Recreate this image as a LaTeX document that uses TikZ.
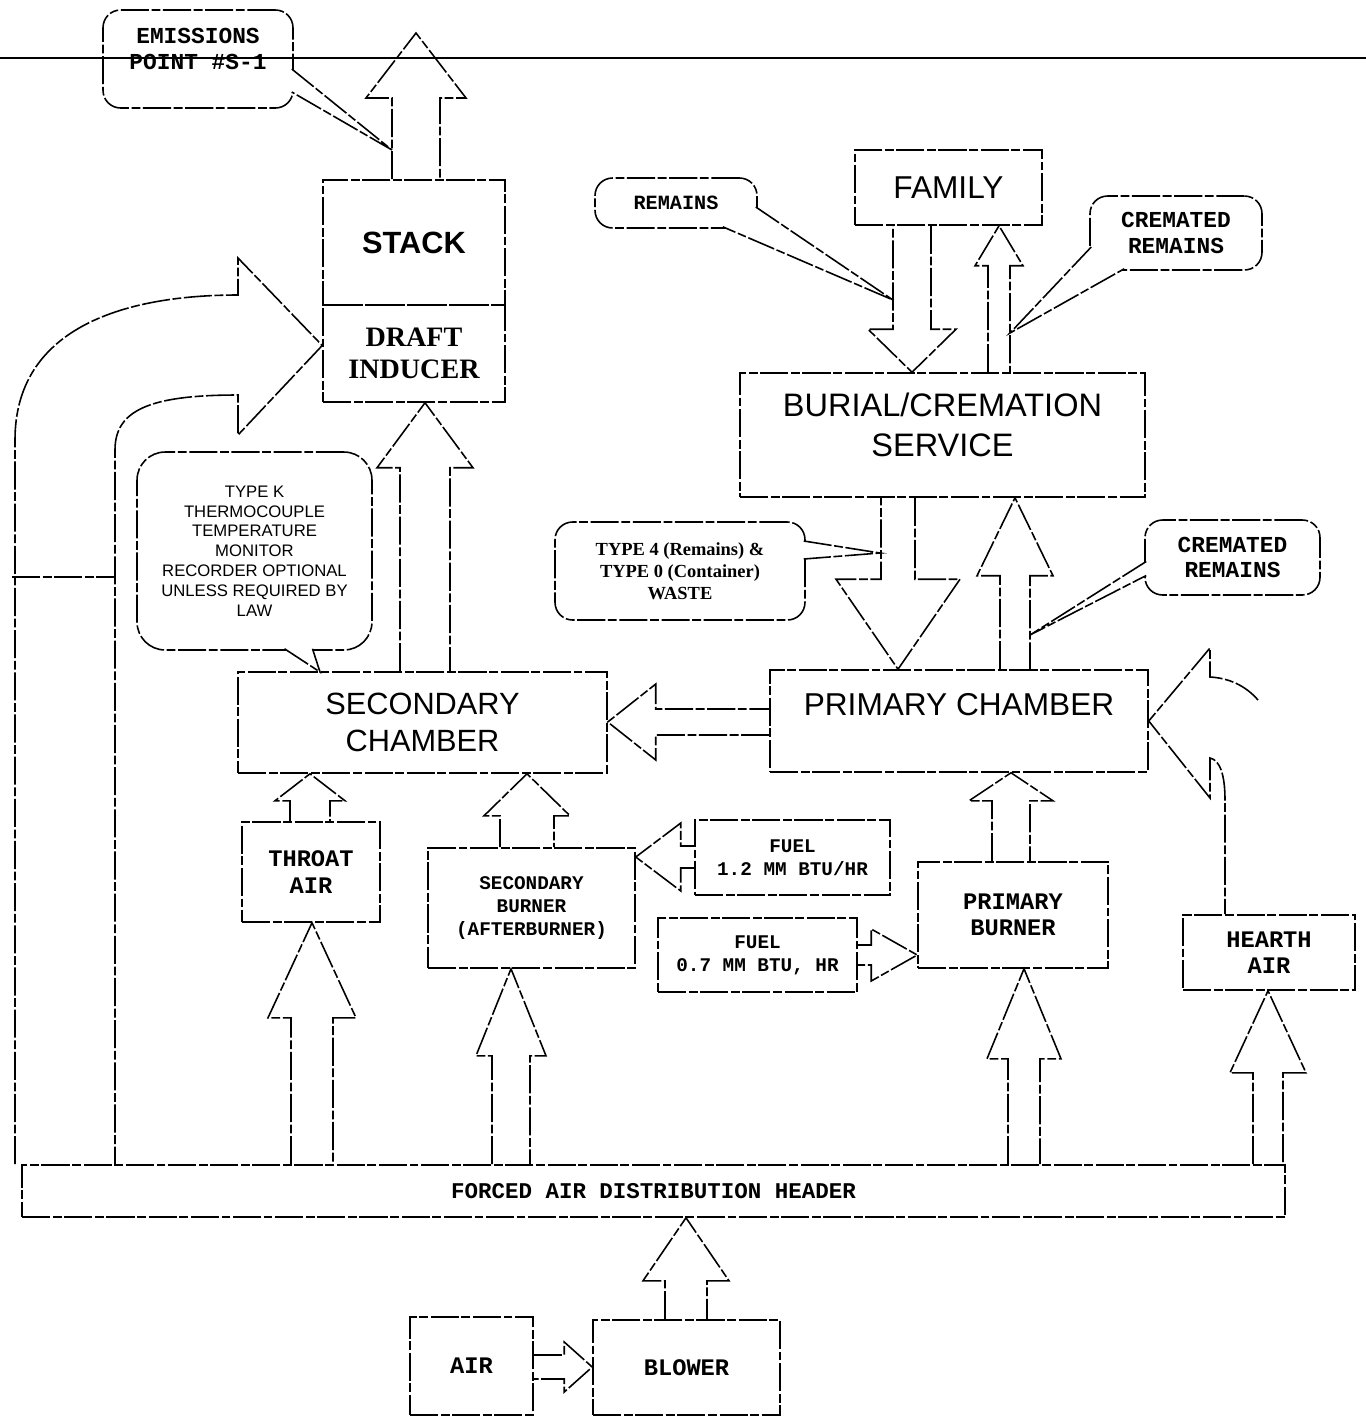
\documentclass[tikz,border=0pt]{standalone}
\usepackage{fontspec}
\setmainfont{Liberation Sans}
\newfontfamily\typefont{Liberation Mono}
\newfontfamily\slabfont{Liberation Serif}
\usetikzlibrary{calc}

% hollow block arrow: start, tip, shaft half width, head half width, head length (px)
\newcommand{\hollowarrow}[5]{%
  \coordinate (haA) at (#1);
  \coordinate (haB) at (#2);
  \coordinate (haH) at ($(haB)!#5*0.02cm!(haA)$);
  \draw[flowline] ($(haA)!#3*0.02cm!90:(haB)$) -- ($(haH)!#3*0.02cm!-90:(haA)$)
    -- ($(haH)!#4*0.02cm!-90:(haA)$) -- (haB) -- ($(haH)!#4*0.02cm!90:(haA)$)
    -- ($(haH)!#3*0.02cm!90:(haA)$) -- ($(haA)!#3*0.02cm!-90:(haB)$);
}
% speech bubble tail: base point, base point, tip
\newcommand{\bubbletail}[3]{%
  \fill[white] (#1) -- (#3) -- (#2) -- cycle;
  \draw[flowline] (#1) -- (#3) -- (#2);
}

\begin{document}
\begin{tikzpicture}[x=0.02cm, y=-0.02cm,
    % Styles for lines and boxes
    flowline/.style={line width=0.9pt, dash pattern=on 16pt off 1.5pt on 5pt off 1.5pt},
    procbox/.style={flowline, draw, rectangle, align=center, inner sep=0pt},
    bubble/.style={flowline, draw, rectangle, rounded corners=10pt, align=center, inner sep=0pt},
    % Styles for text
    bigfont/.style={font=\fontsize{18}{22}\selectfont},
    smalltype/.style={font=\typefont\bfseries\fontsize{11}{13}\selectfont},
    midtype/.style={font=\typefont\bfseries\fontsize{13.5}{15}\selectfont}
]
\useasboundingbox (0,0) rectangle (1366,1417);

% scan line at the top
\draw[line width=0.6pt] (0,58) -- (1366,58);

% Stack and draft inducer
\node[bubble, font=\typefont\bfseries\fontsize{13}{14.5}\selectfont, minimum width=3.8cm, minimum height=1.96cm] (emis) at (198,59) {EMISSIONS\\POINT \#S-1\\[-3pt]};
\node[procbox, font=\bfseries\fontsize{17.5}{21}\selectfont, minimum width=3.64cm, minimum height=2.5cm] (stack) at (414,242.5) {STACK};
\node[procbox, font=\slabfont\bfseries\fontsize{16}{18}\selectfont, minimum width=3.64cm, minimum height=1.94cm] (draft) at (414,353.5) {DRAFT\\INDUCER};
\coordinate (emit) at (416,33);

% Family and burial service
\node[procbox, bigfont, minimum width=3.74cm, minimum height=1.5cm] (family) at (948.5,187.5) {FAMILY};
\node[bubble, font=\typefont\bfseries\fontsize{11.5}{13}\selectfont, minimum width=3.24cm, minimum height=1cm] (remains) at (676,203) {REMAINS};
\node[bubble, font=\typefont\bfseries\fontsize{13}{14.5}\selectfont, minimum width=3.44cm, minimum height=1.48cm] (crem1) at (1176,233) {CREMATED\\REMAINS};
\node[procbox, font=\fontsize{18.5}{23}\selectfont, minimum width=8.1cm, minimum height=2.48cm] (burial) at (942.5,435) {BURIAL/CREMATION\\SERVICE\\[-11.5pt]};
\node[bubble, font=\slabfont\bfseries\fontsize{10.5}{12.5}\selectfont, minimum width=5cm, minimum height=1.96cm] (waste) at (680,571) {TYPE 4 (Remains) \&\\TYPE 0 (Container)\\WASTE};
\node[bubble, font=\typefont\bfseries\fontsize{13}{14.5}\selectfont, minimum width=3.5cm, minimum height=1.5cm] (crem2) at (1232.5,557.5) {CREMATED\\REMAINS};

% Thermocouple note
\node[bubble, rounded corners=16pt, font=\fontsize{9.5}{11.3}\selectfont, minimum width=4.7cm, minimum height=3.96cm] (thermo) at (254.5,551) {TYPE K\\THERMOCOUPLE\\TEMPERATURE\\MONITOR\\RECORDER OPTIONAL\\UNLESS REQUIRED BY\\LAW};

% Chambers
\node[procbox, font=\fontsize{17.5}{21.5}\selectfont, minimum width=7.38cm, minimum height=2.02cm] (secch) at (422.5,722.5) {SECONDARY\\CHAMBER};
\node[procbox, bigfont, minimum width=7.56cm, minimum height=2.04cm] (primch) at (959,721) {\raisebox{0.32cm}[\height][\depth]{PRIMARY CHAMBER}};

% Burners and air inlets
\node[procbox, midtype, minimum width=2.76cm, minimum height=2cm] (throat) at (311,872) {THROAT\\AIR};
\node[procbox, smalltype, minimum width=4.14cm, minimum height=2.4cm] (secburner) at (531.5,908) {SECONDARY\\BURNER\\(AFTERBURNER)};
\node[procbox, smalltype, minimum width=3.9cm, minimum height=1.5cm] (fuel12) at (792.5,857.5) {FUEL\\1.2 MM BTU/HR};
\node[procbox, smalltype, minimum width=3.98cm, minimum height=1.48cm] (fuel07) at (757.5,955) {FUEL\\0.7 MM BTU, HR};
\node[procbox, midtype, minimum width=3.8cm, minimum height=2.12cm] (primburner) at (1013,915) {PRIMARY\\BURNER};
\node[procbox, midtype, minimum width=3.44cm, minimum height=1.5cm] (hearth) at (1269,952.5) {HEARTH\\AIR};

% Header, air and blower
\node[procbox, font=\typefont\bfseries\fontsize{12.8}{14}\selectfont, minimum width=25.26cm, minimum height=1.04cm] (header) at (653.5,1191) {FORCED AIR DISTRIBUTION HEADER};
\node[procbox, midtype, minimum width=2.46cm, minimum height=1.96cm] (air) at (471.5,1366) {AIR};
\node[procbox, midtype, minimum width=3.74cm, minimum height=1.9cm] (blower) at (686.5,1367.5) {BLOWER};

% Upward block arrows (from node below to node above)
\foreach \src/\dst/\xx/\sw/\hw/\hl in {secch/draft/425/25/48/65, throat/secch/310/20/35/27,
    header/throat/312/21/44/95, secburner/secch/527/27/43/42, header/secburner/511/19/35/87,
    primburner/primch/1011/19/42/28, header/primburner/1024/16/37/90, header/hearth/1268/15/38/82,
    blower/header/686/21/43/63, burial/family/999/11/24/40, primch/burial/1015/15/38/78} {
    \hollowarrow{\src.north -| \xx,0}{\dst.south -| \xx,0}{\sw}{\hw}{\hl}
}

% Downward and sideways block arrows
\hollowarrow{stack.north -| 416,0}{emit}{24}{50}{65}
\hollowarrow{family.south -| 912,0}{burial.north -| 912,0}{19}{44}{43}
\hollowarrow{burial.south -| 898,0}{primch.north -| 898,0}{17}{62}{90}
\hollowarrow{primch.west |- 0,722}{secch.east |- 0,722}{13}{38}{48}
\hollowarrow{fuel12.west |- 0,857}{secburner.east |- 0,857}{11}{34}{45}
\hollowarrow{fuel07.east |- 0,955}{primburner.west |- 0,955}{10}{26}{46}
\hollowarrow{air.east |- 0,1367}{blower.west |- 0,1367}{12}{25}{28}

% Recirculation arrow into the draft inducer
\draw[flowline] (header.north -| 15,0) -- (15,440) .. controls (15,330) and (120,295) .. (238,295)
    -- (238,258) -- ($(draft.west)+(0,-8)$) -- (238,435) -- (238,395)
    .. controls (150,395) and (115,410) .. (115,450) -- (header.north -| 115,0);
\draw[flowline] (12,577) -- (115,577);

% Hearth air into the primary chamber
\draw[flowline] (1258,700) .. controls (1245,685) and (1228,678) .. (1210,677) -- (1210,648)
    -- (primch.east) -- (1210,798) -- (1210,758)
    .. controls (1220,760) and (1225,775) .. (1225,800) -- (hearth.north -| 1225,0);

% Bubble tails
\coordinate (emistip) at (392,150);
\coordinate (tctip) at (320,672);
\coordinate (remtip) at (893,300);
\coordinate (crem1tip) at (1010,333);
\coordinate (wastetip) at (880,553);
\coordinate (crem2tip) at (1030,635);
\bubbletail{$(emis.east)+(-2,10)$}{$(emis.east)+(-2,33)$}{emistip}
\bubbletail{$(thermo.south)+(30,-2)$}{$(thermo.south)+(58,-2)$}{tctip}
\bubbletail{$(remains.east)+(-2,4)$}{$(remains.south east)+(-35,-2)$}{remtip}
\bubbletail{$(crem1.west)+(2,14)$}{$(crem1.south west)+(35,-2)$}{crem1tip}
\bubbletail{$(waste.east)+(-2,-30)$}{$(waste.east)+(-2,-12)$}{wastetip}
\bubbletail{$(crem2.west)+(2,4)$}{$(crem2.west)+(2,18)$}{crem2tip}

\end{tikzpicture}
\end{document}
